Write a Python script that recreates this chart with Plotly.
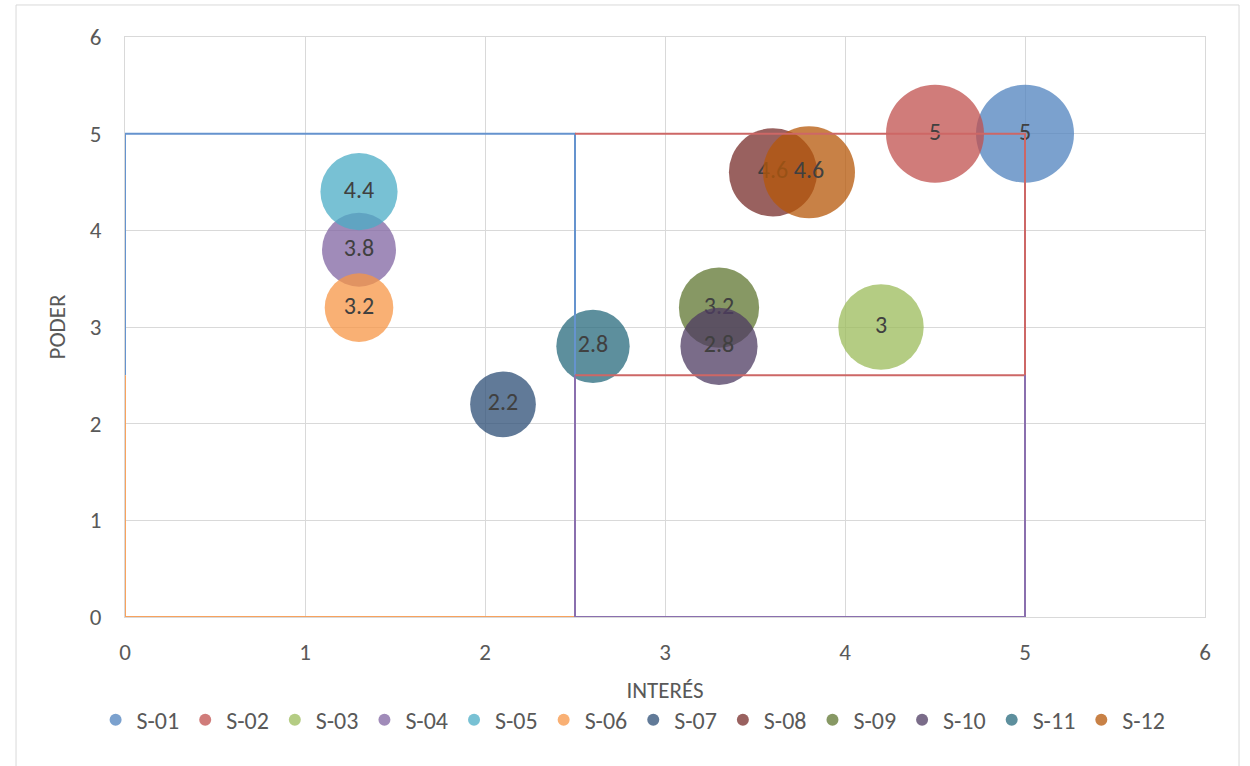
import plotly.graph_objects as go

# Stakeholder matrix: interest (x) vs. power (y), bubble size = weight
stakeholders = ["S-01", "S-02", "S-03", "S-04", "S-05", "S-06",
                "S-07", "S-08", "S-09", "S-10", "S-11", "S-12"]
interes = [5.0, 4.5, 4.2, 1.3, 1.3, 1.3, 2.1, 3.6, 3.3, 3.3, 2.6, 3.8]
poder = [5.0, 5.0, 3.0, 3.8, 4.4, 3.2, 2.2, 4.6, 3.2, 2.8, 2.8, 4.6]
peso = [10.0, 10.0, 7.6, 5.7, 6.2, 4.9, 4.5, 8.1, 6.7, 6.2, 5.6, 8.8]

colores = ["#4F81BD", "#C0504D", "#9BBB59", "#8064A2", "#4BACC6", "#F79646",
           "#2C4D75", "#772C2A", "#5F7530", "#4D3B62", "#276A7C", "#B65708"]

# Quadrant outlines (x corners, y corners)
cuadrantes = [
    {"x": [0, 0, 2.5, 2.5], "y": [2.5, 5, 5, 2.5], "color": "#6593CE"},
    {"x": [2.5, 5, 5, 2.5], "y": [5, 5, 2.5, 2.5], "color": "#CD6766"},
    {"x": [0, 0, 2.5], "y": [2.5, 0, 0], "color": "#F7A25E"},
    {"x": [2.5, 2.5, 5, 5], "y": [2.5, 0, 0, 2.5], "color": "#8A6FAE"},
]

FONT = "Carlito, Lato, sans-serif"
GRID = "#D9D9D9"
TEXT = "#595959"
FS = 23

max_px = 98
sizeref = 2.0 * max(peso) / (max_px ** 2)

fig = go.Figure()

for name, x, y, s, c in zip(stakeholders, interes, poder, peso, colores):
    fig.add_trace(go.Scatter(
        x=[x], y=[y], name=name,
        mode="markers+text",
        text=[f"{y:g}"],
        textposition="middle center",
        textfont=dict(family=FONT, size=24, color="#404040"),
        marker=dict(size=[s], sizemode="area", sizeref=sizeref,
                    color=c, opacity=0.75, line=dict(width=0)),
    ))

for q in cuadrantes:
    fig.add_trace(go.Scatter(
        x=q["x"], y=q["y"], mode="lines", showlegend=False,
        line=dict(color=q["color"], width=2), hoverinfo="skip",
    ))

fig.update_layout(
    width=1250, height=766,
    margin=dict(l=125, r=45, t=37, b=149),
    paper_bgcolor="white", plot_bgcolor="white",
    font=dict(family=FONT, size=FS, color=TEXT),
    showlegend=True,
    legend=dict(orientation="h", x=0.47, xanchor="center",
                y=-0.178, yanchor="middle",
                font=dict(family=FONT, size=24, color=TEXT),
                itemsizing="constant", itemwidth=32,
                tracegroupgap=0),
    shapes=[dict(type="rect", xref="paper", yref="paper",
                 x0=-0.1009, x1=1.0315, y0=-0.3, y1=1.0552,
                 line=dict(color=GRID, width=1), layer="below")],
)

fig.update_xaxes(
    range=[0, 6], dtick=1, showgrid=True, gridcolor=GRID, gridwidth=1,
    zeroline=False, showline=True, mirror=True, linecolor=GRID, linewidth=1,
    ticks="outside", ticklen=14, tickcolor="rgba(0,0,0,0)",
    tickfont=dict(family=FONT, size=FS, color=TEXT),
    title=dict(text="INTERÉS", font=dict(family=FONT, size=FS, color=TEXT),
               standoff=17),
)
fig.update_yaxes(
    range=[0, 6], dtick=1, showgrid=True, gridcolor=GRID, gridwidth=1,
    zeroline=False, showline=True, mirror=True, linecolor=GRID, linewidth=1,
    ticks="outside", ticklen=18, tickcolor="rgba(0,0,0,0)",
    tickfont=dict(family=FONT, size=FS, color=TEXT),
    title=dict(text="PODER", font=dict(family=FONT, size=FS, color=TEXT),
               standoff=17),
)

fig.write_html("out.html")
